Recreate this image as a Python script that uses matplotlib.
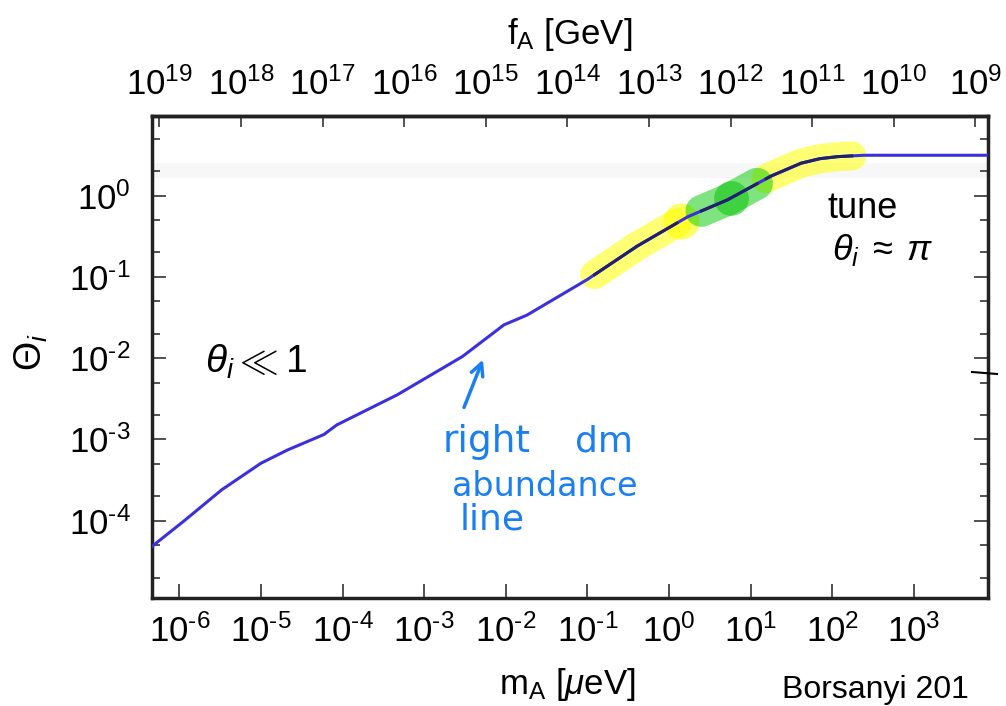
import numpy as np
import matplotlib
matplotlib.use("Agg")
import matplotlib.pyplot as plt
from matplotlib.ticker import LogLocator, NullLocator, NullFormatter
from matplotlib.lines import Line2D
from matplotlib.patches import FancyArrowPatch

plt.rcParams['font.family'] = ['Liberation Sans', 'DejaVu Sans']
plt.rcParams['mathtext.fontset'] = 'custom'
plt.rcParams['mathtext.rm'] = 'Liberation Sans'
plt.rcParams['mathtext.it'] = 'Liberation Sans:italic'
plt.rcParams['mathtext.bf'] = 'Liberation Sans:bold'

# ---------------- data ----------------
# axion mass m_A [micro eV] and initial misalignment angle theta_i (right DM abundance)
m_A = [4.7e-7, 1.12e-6, 3.3e-6, 1.0e-5, 2.1e-5, 5.9e-5, 8.5e-5, 4.7e-4,
       2.95e-3, 9.5e-3, 1.82e-2, 0.10, 0.41, 1.7, 5.25, 17.8, 41.7, 70.8,
       117.0, 245.0, 8100.0]
theta_i = [4.9e-5, 9.8e-5, 2.4e-4, 5.1e-4, 7.4e-4, 1.15e-3, 1.51e-3, 3.55e-3,
           1.05e-2, 2.57e-2, 3.39e-2, 9.3e-2, 0.24, 0.55, 0.89, 1.74, 2.51, 2.85,
           3.02, 3.14, 3.14]

x_ticks = [1e-6, 1e-5, 1e-4, 1e-3, 1e-2, 1e-1, 1e0, 1e1, 1e2, 1e3]
x_exponents = [-6, -5, -4, -3, -2, -1, 0, 1, 2, 3]
y_ticks = [1e-4, 1e-3, 1e-2, 1e-1, 1e0]
y_exponents = [-4, -3, -2, -1, 0]
f_ticks = [1e19, 1e18, 1e17, 1e16, 1e15, 1e14, 1e13, 1e12, 1e11, 1e10, 1e9]
f_exponents = [19, 18, 17, 16, 15, 14, 13, 12, 11, 10, 9]
M_TO_F = 5.7e12   # f_A [GeV] = 5.7e12 / m_A [micro eV]

x_limits = (4.62e-7, 8.13e3)
y_limits = (1.12e-5, 9.55)

# hand-drawn highlighter marks along the curve (ranges in m_A)
yellow_strokes = [(0.123, 1.25), (15.5, 174.0)]
green_strokes = [(2.5, 12.0)]
yellow_spots = [1.4]
green_spots = [5.7]
smudge_band = (1.67, 2.55)

# ---------------- helpers ----------------
lm = np.log10(m_A)
lt = np.log10(theta_i)


def curve_at(m):
    return 10 ** np.interp(np.log10(m), lm, lt)


def segment(lo, hi):
    inner = [v for v in m_A if lo < v < hi]
    mm = np.array([lo] + inner + [hi])
    return mm, curve_at(mm)


def m_to_f(m):
    m = np.asarray(m, dtype=float)
    with np.errstate(divide='ignore', invalid='ignore'):
        return M_TO_F / m


def pow_label(e):
    s = ('\u2010' + str(-e)) if e < 0 else str(e)
    return r'$10^{%s}$' % s


# ---------------- figure ----------------
W, H = 1006, 706
fig = plt.figure(figsize=(W / 100, H / 100), dpi=100)
ax = fig.add_axes([152 / W, 108 / H, 836 / W, 482 / H])
ax.set_xscale('log')
ax.set_yscale('log')
ax.set_xlim(*x_limits)
ax.set_ylim(*y_limits)

ax.axhspan(*smudge_band, color='#f7f7f7', zorder=0.5, lw=0)

line_color = '#3b30dd'
dark_line = '#22206a'
ax.plot(m_A, theta_i, color=line_color, lw=2.2, zorder=3)

for lo, hi in yellow_strokes:
    mm, tt = segment(lo, hi)
    ax.plot(mm, tt, color='#ffff00', alpha=0.55, lw=21, solid_capstyle='round',
            zorder=1)
    ax.plot(mm, tt, color=dark_line, lw=2.2, zorder=4)
for m in yellow_spots:
    ax.plot([m], [curve_at(m)], 'o', ms=26, color='#ffff00', alpha=0.6,
            mec='none', zorder=1.2)
for lo, hi in green_strokes:
    mm, tt = segment(lo, hi)
    ax.plot(mm, tt, color='#00c800', alpha=0.5, lw=23, solid_capstyle='round',
            zorder=1.5)
    ax.plot(mm, tt, color=dark_line, lw=2.2, zorder=4)
for m in green_spots:
    ax.plot([m], [curve_at(m)], 'o', ms=25, color='#00c000', alpha=0.5,
            mec='none', zorder=1.6)

# axes styling
for s in ax.spines.values():
    s.set_linewidth(2.5)
    s.set_color('#222222')

ax.set_xticks(x_ticks)
ax.set_xticklabels([pow_label(e) for e in x_exponents])
ax.xaxis.set_minor_locator(NullLocator())
ax.set_yticks(y_ticks)
ax.set_yticklabels([pow_label(e) for e in y_exponents])
ax.yaxis.set_minor_locator(LogLocator(base=10, subs=[2.0, 5.0]))
ax.yaxis.set_minor_formatter(NullFormatter())

ax.tick_params(which='both', direction='in', top=False, right=True,
               color='#333333', width=1.2, labelsize=25)
ax.tick_params(which='major', length=10)
ax.tick_params(which='minor', length=6)
ax.tick_params(axis='x', pad=12)
ax.tick_params(axis='y', pad=15.5)

sec = ax.secondary_xaxis('top', functions=(m_to_f, m_to_f))
sec.set_xticks(f_ticks)
sec.set_xticklabels([pow_label(e) for e in f_exponents])
sec.xaxis.set_minor_locator(NullLocator())
sec.tick_params(which='both', direction='in', length=8, width=1.2,
                color='#333333', labelsize=25, pad=10)
sec.spines['top'].set_linewidth(2.5)
sec.spines['top'].set_color('#222222')
sec.set_xlabel(r'f$_{\rm A}$ [GeV]', fontsize=25, labelpad=17)

ax.set_xlabel(r'm$_{\rm A}$ [$\mu$eV]', fontsize=25)
ax.xaxis.set_label_coords(0.497, -0.142)
ax.set_ylabel(r'$\Theta_i$', fontsize=27)
ax.yaxis.set_label_coords(-0.122, 0.51)

# hand-written annotations
def fx(px):
    return px / W


def fy(py):
    return 1 - py / H


fig.text(fx(205), fy(362), r'$\theta_i \ll 1$', fontsize=28, va='center',
         ha='left', color='black')
fig.text(fx(828), fy(208), 'tune', fontsize=26, va='center', ha='left',
         color='black')
fig.text(fx(832), fy(250), r'$\theta_i\;\approx\;\pi$', fontsize=26,
         va='center', ha='left', color='black')

blue_hand = '#1a7ff0'
fig.text(fx(443), fy(442), 'right', fontsize=27, va='center', ha='left',
         color=blue_hand, family='DejaVu Sans')
fig.text(fx(575), fy(442), 'dm', fontsize=26, va='center', ha='left',
         color=blue_hand, family='DejaVu Sans')
fig.text(fx(452), fy(487), 'abundance', fontsize=24, va='center', ha='left',
         color=blue_hand, family='DejaVu Sans')
fig.text(fx(460), fy(520), 'line', fontsize=26, va='center', ha='left',
         color=blue_hand, family='DejaVu Sans')
fig.add_artist(FancyArrowPatch(
    (fx(463), fy(410)), (fx(484), fy(357)), transform=fig.transFigure,
    arrowstyle='->', mutation_scale=22, color=blue_hand, lw=2.5))

fig.text(fx(782), fy(698), 'Borsanyi 201', fontsize=23, va='baseline',
         ha='left', color='black')
fig.add_artist(Line2D([fx(972), fx(997)], [fy(372), fy(374)],
                      transform=fig.transFigure, color='black', lw=1.5))

fig.savefig('out.png', dpi=100)
